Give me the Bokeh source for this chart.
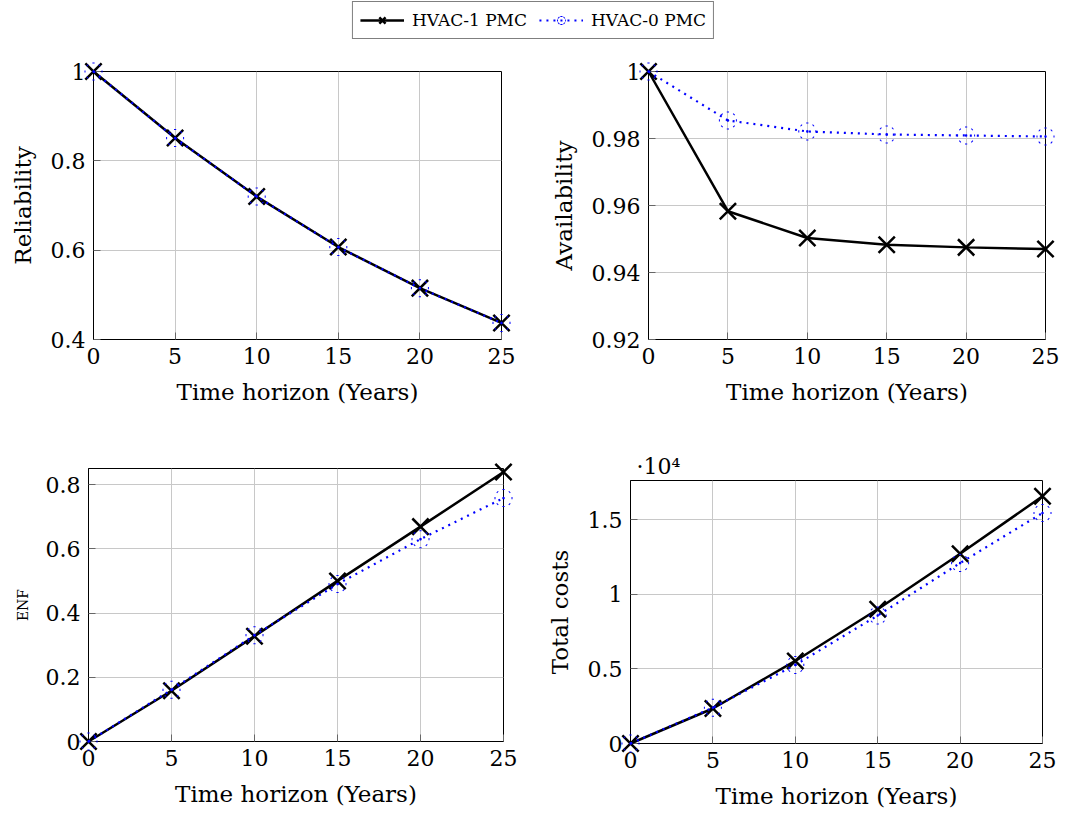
from bokeh.plotting import figure
from bokeh.layouts import column, row
from bokeh.models import Spacer, FixedTicker, Range1d, Legend, LegendItem
from bokeh.embed import file_html
from bokeh.resources import INLINE

# ---------------- data ----------------
years = [0, 5, 10, 15, 20, 25]
series_names = ["HVAC-1 PMC", "HVAC-0 PMC"]

rel_pmc1 = [1.0, 0.851, 0.720, 0.607, 0.515, 0.437]
rel_pmc0 = [1.0, 0.851, 0.720, 0.607, 0.515, 0.437]

avail_pmc1 = [1.0, 0.9583, 0.9503, 0.9483, 0.9475, 0.9470]
avail_pmc0 = [1.0, 0.9854, 0.9821, 0.9812, 0.9809, 0.9806]

enf_pmc1 = [0.0, 0.158, 0.328, 0.500, 0.669, 0.839]
enf_pmc0 = [0.0, 0.161, 0.331, 0.490, 0.630, 0.758]

cost_pmc1 = [0, 2350, 5540, 9010, 12740, 16590]
cost_pmc0 = [0, 2400, 5270, 8590, 12110, 15470]

x_ticks = [0, 5, 10, 15, 20, 25]
x_labels = ["0", "5", "10", "15", "20", "25"]
rel_ticks = [0.4, 0.6, 0.8, 1]
rel_labels = ["0.4", "0.6", "0.8", "1"]
avail_ticks = [0.92, 0.94, 0.96, 0.98, 1]
avail_labels = ["0.92", "0.94", "0.96", "0.98", "1"]
enf_ticks = [0, 0.2, 0.4, 0.6, 0.8]
enf_labels = ["0", "0.2", "0.4", "0.6", "0.8"]
cost_ticks = [0, 5000, 10000, 15000]
cost_labels = ["0", "0.5", "1", "1.5"]
cost_scale_label = "\u00b710\u2074"

x_title = "Time horizon (Years)"

FONT = "DejaVu Serif"
BLUE = "#0000ff"


def add_series(p, xs, y1, y0):
    r1l = p.line(xs, y1, line_color="black", line_width=2.5, level="overlay")
    r1m = p.scatter(xs, y1, marker="x", size=23, line_color="black", line_width=2.5,
                    level="overlay")
    r0l = p.line(xs, y0, line_color=BLUE, line_width=2.2, line_dash="2 5", level="overlay")
    r0m = p.scatter(xs, y0, marker="asterisk", size=18, line_color=BLUE,
                    line_width=2.2, line_dash="2 7", line_dash_offset=1, level="overlay")
    return (r1l, r1m), (r0l, r0m)


def make(y1, y0, yrange, yticks, ylabels, ylabel, fw, fh, bl, br, bt, bb,
         ylabel_size="23px"):
    p = figure(frame_width=fw, frame_height=fh,
               x_range=Range1d(0, 25), y_range=Range1d(*yrange),
               output_backend="svg", toolbar_location=None,
               min_border_left=bl, min_border_right=br,
               min_border_top=bt, min_border_bottom=bb,
               background_fill_color="white", border_fill_color="white")
    add_series(p, years, y1, y0)
    p.xaxis.ticker = FixedTicker(ticks=x_ticks)
    p.yaxis.ticker = FixedTicker(ticks=yticks)
    p.xaxis.major_label_overrides = {t: s for t, s in zip(x_ticks, x_labels)}
    p.yaxis.major_label_overrides = {t: s for t, s in zip(yticks, ylabels)}
    p.xaxis.axis_label = x_title
    p.yaxis.axis_label = ylabel
    for ax in (p.xaxis[0], p.yaxis[0]):
        ax.major_label_text_font = FONT
        ax.major_label_text_font_size = "22px"
        ax.major_label_text_color = "black"
        ax.axis_label_text_font = FONT
        ax.axis_label_text_font_style = "normal"
        ax.axis_label_text_color = "black"
        ax.axis_label_text_font_size = "23px"
        ax.axis_line_color = "black"
        ax.axis_line_width = 1
        ax.major_tick_in = 7
        ax.major_tick_out = 0
        ax.major_tick_line_color = "#666666"
        ax.minor_tick_line_color = None
        ax.major_label_standoff = 8
        ax.axis_label_standoff = 12
    p.yaxis.axis_label_text_font_size = ylabel_size
    p.grid.grid_line_color = "#c8c8c8"
    p.grid.grid_line_width = 1
    p.outline_line_color = "black"
    p.outline_line_width = 1
    return p


p1 = make(rel_pmc1, rel_pmc0, (0.4, 1.0), rel_ticks, rel_labels, "Reliability",
          408, 268, 93, 45, 32, 89)
p2 = make(avail_pmc1, avail_pmc0, (0.92, 1.0), avail_ticks, avail_labels, "Availability",
          397, 268, 102, 21, 32, 89)
p3 = make(enf_pmc1, enf_pmc0, (0.0, 0.85), enf_ticks, enf_labels, "ENF",
          415, 273, 88, 40, 40, 83, ylabel_size="14px")
cost_top = 17650
p4 = make(cost_pmc1, cost_pmc0, (0, cost_top), cost_ticks, cost_labels, "Total costs",
          412, 263, 86, 25, 40, 81)
p4.title.text = cost_scale_label
p4.title.align = "left"
p4.title.offset = 6
p4.title.standoff = 4
p4.title.text_font = FONT
p4.title.text_font_size = "22px"
p4.title.text_font_style = "normal"
p4.title.text_color = "black"

# ---------------- legend ----------------
leg = figure(frame_width=1066, frame_height=39, x_range=Range1d(-200, -100),
             y_range=Range1d(-200, -100), output_backend="svg", toolbar_location=None,
             min_border=0, background_fill_color="white", border_fill_color="white")
leg.axis.visible = False
leg.grid.visible = False
leg.outline_line_color = None
(a1, a2), (b1, b2) = add_series(leg, years, rel_pmc1, rel_pmc0)
legend = Legend(items=[LegendItem(label=series_names[0], renderers=[a1, a2]),
                       LegendItem(label=series_names[1], renderers=[b1, b2])],
                location="center", orientation="horizontal",
                label_text_font=FONT, label_text_font_size="17px",
                label_text_color="black", glyph_width=44, glyph_height=22,
                label_standoff=8, spacing=12, padding=7, margin=0,
                border_line_color="black", border_line_width=1,
                background_fill_color="white", background_fill_alpha=1.0)
leg.add_layout(legend, "center")

layout = column(leg,
                row(p1, p2),
                row(p3, column(Spacer(width=10, height=12), p4)))

open("out.html", "w").write(file_html(layout, INLINE))
